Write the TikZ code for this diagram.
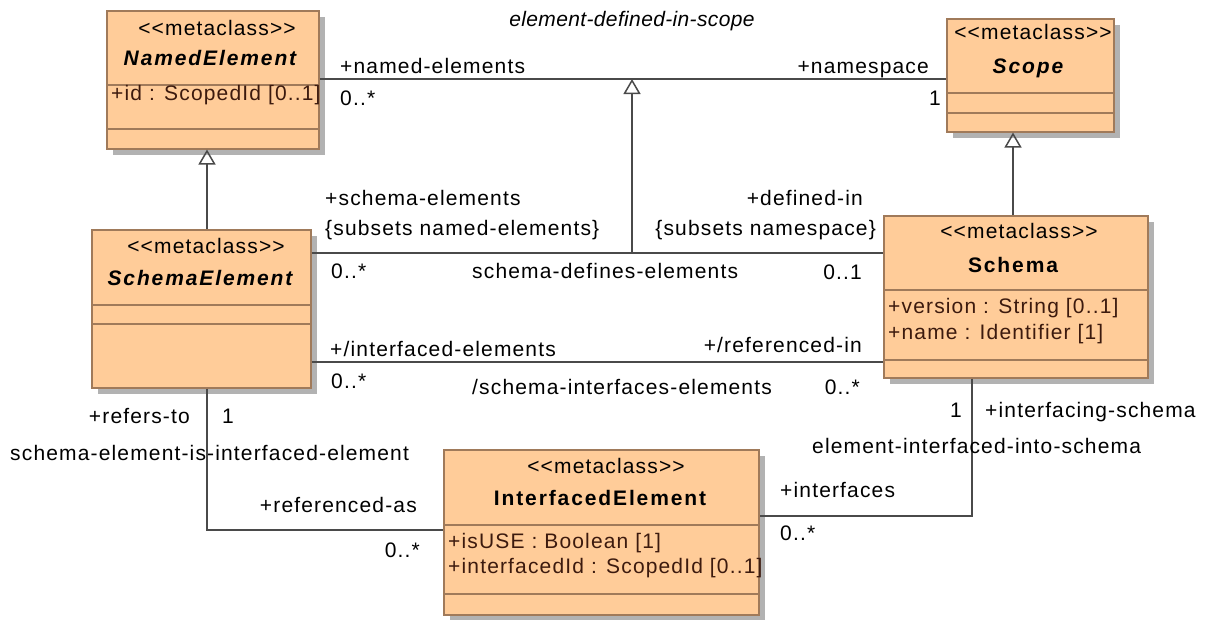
\documentclass[tikz,border=0pt]{standalone}
\usepackage{fontspec}
\setmainfont{Liberation Sans}[LetterSpace=5.5]
\newfontfamily\namefont{Liberation Sans}[LetterSpace=9]
\newfontfamily\assocfont{Liberation Sans}[LetterSpace=1.7]
\usetikzlibrary{arrows.meta,shadows}
\definecolor{boxfill}{HTML}{FFCC99}
\definecolor{boxline}{HTML}{A07A5A}
\definecolor{attrc}{HTML}{3C1A0E}
\definecolor{linec}{HTML}{4A4A4A}
\begin{document}
\begin{tikzpicture}[x=1pt,y=-1pt,
  cls/.style={draw=boxline, fill=boxfill, line width=1.5pt, inner sep=0pt, anchor=north west,
    drop shadow={shadow xshift=6pt, shadow yshift=-6pt, fill=black!30, opacity=1}},
  sepline/.style={draw=boxline, line width=1.5pt},
  txt/.style={inner sep=0pt, font=\fontsize{21}{25}\selectfont},
  stereo/.style={txt, anchor=base},
  cname/.style={inner sep=0pt, anchor=base, font=\fontsize{21}{25}\namefont\bfseries},
  attr/.style={txt, anchor=base west, text=attrc},
  assoc/.style={draw=linec, line width=1.5pt},
  gen/.style={draw=linec, line width=1.5pt, -{Triangle[open, width=17pt, length=15pt, line width=1.5pt]}},
  lw/.style={txt, anchor=base west},
  le/.style={txt, anchor=base east}
]
\useasboundingbox (0,0) rectangle (1210,619);

% ---- classes ----
\node[cls, minimum width=212pt, minimum height=138pt] (ne) at (106,10) {};
\draw[sepline] (106,85) -- (318,85);
\draw[sepline] (106,129) -- (318,129);
\node[stereo] (ne-st) at (217,35) {<{}<metaclass>{}>};
\node[cname] (ne-nm) at (210,65) {\itshape NamedElement};
\node[attr] (ne-a1) at (111,100) {+id : ScopedId [0..1]};

\node[cls, minimum width=167pt, minimum height=113pt] (scope) at (946,18) {};
\draw[sepline] (946,93) -- (1113,93);
\draw[sepline] (946,113) -- (1113,113);
\node[stereo] (sc-st) at (1033,39) {<{}<metaclass>{}>};
\node[cname] (sc-nm) at (1028,73) {\itshape Scope};

\node[cls, minimum width=219pt, minimum height=158pt] (se) at (91,229) {};
\draw[sepline] (91,305) -- (310,305);
\draw[sepline] (91,324) -- (310,324);
\node[stereo] (se-st) at (206,253) {<{}<metaclass>{}>};
\node[cname] (se-nm) at (200,285) {\itshape SchemaElement};

\node[cls, minimum width=264pt, minimum height=162pt] (schema) at (883,215) {};
\draw[sepline] (883,290) -- (1147,290);
\draw[sepline] (883,360) -- (1147,360);
\node[stereo] (sch-st) at (1019,238) {<{}<metaclass>{}>};
\node[cname] (sch-nm) at (1013,272) {Schema};
\node[attr] (sch-a1) at (888,313) {+version : String [0..1]};
\node[attr] (sch-a2) at (888,339) {+name : Identifier [1]};

\node[cls, minimum width=315pt, minimum height=165pt] (ie) at (443,449) {};
\draw[sepline] (443,525) -- (758,525);
\draw[sepline] (443,594) -- (758,594);
\node[stereo] (ie-st) at (606,473) {<{}<metaclass>{}>};
\node[cname] (ie-nm) at (600,505) {InterfacedElement};
\node[attr] (ie-a1) at (448,548) {+isUSE : Boolean [1]};
\node[attr] (ie-a2) at (448,573) {+interfacedId : ScopedId [0..1]};

% ---- helper coordinates ----
\coordinate (y1) at (0,79);
\coordinate (y2) at (0,253);
\coordinate (y3) at (0,362);
\coordinate (y5) at (0,530);
\coordinate (y6) at (0,516);
\coordinate (gx) at (207,0);
\coordinate (sx) at (1013,0);
\coordinate (ix) at (972,0);
\coordinate (ax) at (632,0);

% ---- connectors ----
\draw[assoc] (ne.east |- y1) -- (scope.west |- y1);
\draw[assoc] (se.east |- y2) -- (schema.west |- y2);
\draw[assoc] (se.east |- y3) -- (schema.west |- y3);
\draw[gen] (ax |- y2) -- (ax |- y1);
\draw[gen] (se.north -| gx) -- (ne.south -| gx);
\draw[gen] (schema.north -| sx) -- (scope.south -| sx);
\draw[assoc] (se.south -| gx) |- (ie.west |- y5);
\draw[assoc] (schema.south -| ix) |- (ie.east |- y6);

% ---- labels ----
\node[txt, anchor=base] (l0) at (632,26) {\assocfont\itshape element-defined-in-scope};
\node[lw] (l1) at (340,73) {+named-elements};
\node[lw] (l2) at (340,105) {0..*};
\node[le] (l3) at (929,73) {+namespace};
\node[le] (l4) at (941,105) {1};

\node[lw] (l5) at (325,205) {+schema-elements};
\node[lw] (l6) at (325,235) {\{subsets named-elements\}};
\node[le] (l7) at (863,205) {+defined-in};
\node[le] (l8) at (876,235) {\{subsets namespace\}};
\node[lw] (l9) at (331,278) {0..*};
\node[lw] (l10) at (472,278) {schema-defines-elements};
\node[le] (l11) at (862,279) {0..1};

\node[lw] (l12) at (330,356) {+/interfaced-elements};
\node[le] (l13) at (862,352) {+/referenced-in};
\node[lw] (l14) at (331,388) {0..*};
\node[lw] (l15) at (472,394) {/schema-interfaces-elements};
\node[le] (l16) at (860,394) {0..*};

\node[le] (l17) at (190,423) {+refers-to};
\node[lw] (l18) at (222,423) {1};
\node[lw] (l19) at (10,460) {schema-element-is-interfaced-element};
\node[le] (l20) at (417,512) {+referenced-as};
\node[le] (l21) at (420,557) {0..*};

\node[le] (l22) at (962,417) {1};
\node[lw] (l23) at (985,417) {+interfacing-schema};
\node[lw] (l24) at (812,453) {element-interfaced-into-schema};
\node[lw] (l25) at (780,497) {+interfaces};
\node[lw] (l26) at (780,540) {0..*};
\end{tikzpicture}
\end{document}
